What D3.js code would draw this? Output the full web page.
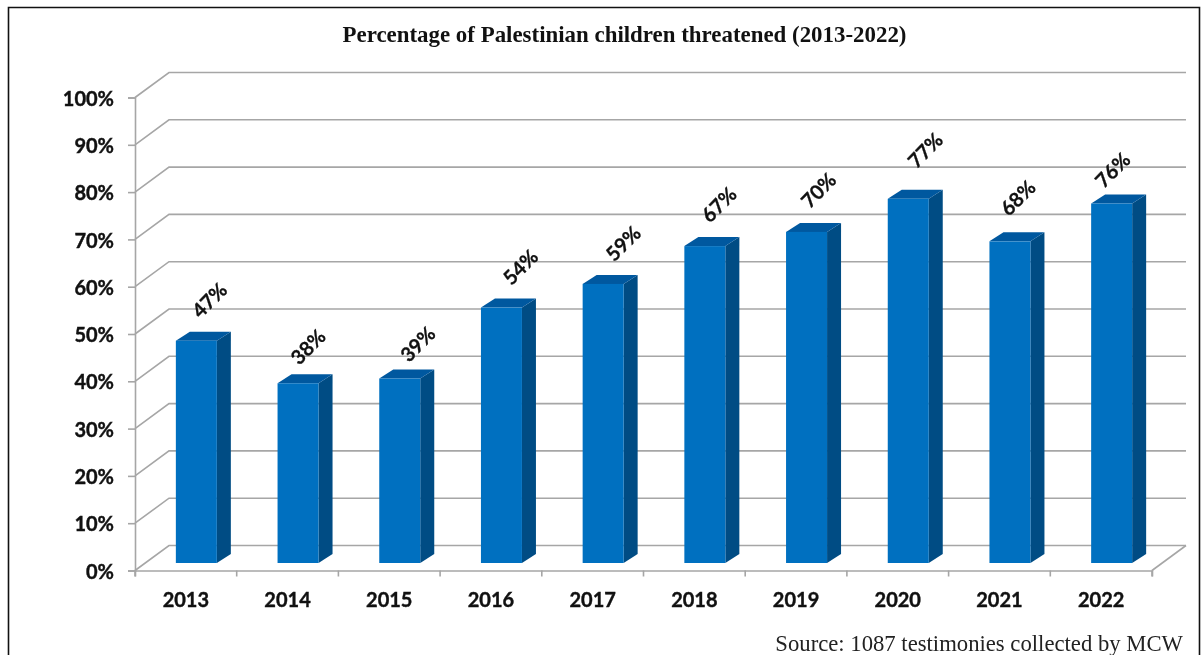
<!DOCTYPE html>
<html><head><meta charset="utf-8">
<script src="https://cdn.jsdelivr.net/npm/d3@7/dist/d3.min.js"></script>
<style>html,body{margin:0;padding:0;background:#fff;overflow:hidden}svg{display:block;filter:blur(0.45px)}</style>
</head><body><svg id="c" width="1201" height="655"></svg>
<script>
const years = ["2013","2014","2015","2016","2017","2018","2019","2020","2021","2022"];
const percents = [47,38,39,54,59,67,70,77,68,76];
const yTicks = [0,10,20,30,40,50,60,70,80,90,100];
const titleText = "Percentage of Palestinian children threatened (2013-2022)";
const sourceText = "Source: 1087 testimonies collected by MCW";

// hand-placed label nudges seen in the reference, relative to the default label spot
const labelNudgeX = [-1,-4,4,5,6,0,-2,3,-6,-13];
const labelNudgeY = [4,8,10,4,4,3,3,-4,1,11];

const svg = d3.select("#c");
const sans = "Lato, 'Open Sans', sans-serif";
const grid = "#a6a6a6";
const wallDx = 34, wallDy = -25;
const x = d3.scaleBand().domain(years).range([135,1152]);
const y = d3.scaleLinear().domain([0,100]).range([570.5,97.5]);
const barW = 41, barDx = 14, barDy = -9, barLift = -7.5, barShift = 10.5;

// frame
svg.append("path").attr("d","M8.5,655V7.5H1199.5V655").attr("fill","none").attr("stroke","#111").attr("stroke-width",1.6);

// gridlines on side and back walls
const g = svg.append("g").attr("fill","none").attr("stroke",grid).attr("stroke-width",1.6);
yTicks.forEach(t=>{
  const p = d3.path();
  p.moveTo(135,y(t)); p.lineTo(135+wallDx,y(t)+wallDy); p.lineTo(1152+wallDx,y(t)+wallDy);
  g.append("path").attr("d",p.toString());
});
// floor
{
  const p = d3.path();
  p.moveTo(1186,y(0)+wallDy); p.lineTo(1152,y(0));
  g.append("path").attr("d",p.toString());
}
// axes
const yAxis = d3.axisLeft(y).tickValues(yTicks).tickSize(7).tickFormat(d=>d+"%");
const ya = svg.append("g").attr("transform","translate(135,0)").call(yAxis);
const xAxis = d3.axisBottom(x).tickSize(6);
const xa = svg.append("g").attr("transform",`translate(0,${y(0)})`).call(xAxis);
xa.selectAll(".tick line").remove();
const xEdges = years.map(d=>x(d)).concat([1152]);
xEdges.forEach(e=>xa.append("line").attr("x1",e).attr("x2",e).attr("y1",0).attr("y2",6).attr("stroke",grid).attr("stroke-width",1.6));
[ya,xa].forEach(a=>{
  a.selectAll(".domain").attr("stroke",grid).attr("stroke-width",1.6);
  a.selectAll(".tick line").attr("stroke",grid).attr("stroke-width",1.6);
  a.selectAll("text").attr("fill","#111").attr("font-family",sans).attr("font-weight",700).attr("font-size",20)
    .attr("stroke","#111").attr("stroke-width",0.4);
});
ya.selectAll("text").attr("x",-21).attr("dy","0.38em");
xa.selectAll("text").attr("y",22);

// bars
const bars = svg.append("g").selectAll("g").data(years.map((d,i)=>({year:d,v:percents[i],i}))).join("g");
const bx = d=>x(d.year)+x.bandwidth()/2-barW/2+barShift;
const base = y(0)+barLift;
const top_ = d=>y(d.v)+barLift;
bars.append("path").attr("fill","#004c84").attr("d",d=>{
  const l=bx(d)+barW;
  return `M${l},${top_(d)}L${l+barDx},${top_(d)+barDy}V${base+barDy}L${l},${base}Z`;
});
bars.append("path").attr("fill","#00589f").attr("d",d=>{
  const l=bx(d);
  return `M${l},${top_(d)}L${l+barDx},${top_(d)+barDy}H${l+barW+barDx}L${l+barW},${top_(d)}Z`;
});
bars.append("rect").attr("fill","#0070c0").attr("x",bx).attr("y",top_).attr("width",barW).attr("height",d=>base-top_(d));
// value labels
bars.append("text").text(d=>d.v+"%")
  .attr("transform",d=>`translate(${bx(d)+barW/2+15.5+labelNudgeX[d.i]},${top_(d)-43+labelNudgeY[d.i]}) rotate(-45)`)
  .attr("text-anchor","middle").attr("dominant-baseline","middle")
  .attr("font-family",sans).attr("font-weight",700).attr("font-size",20).attr("fill","#111")
  .attr("stroke","#111").attr("stroke-width",0.3);

svg.append("text").text(titleText).attr("x",624.5).attr("y",42).attr("text-anchor","middle")
  .attr("font-family","'Liberation Serif',serif").attr("font-weight",700).attr("font-size",22.9).attr("fill","#111");
svg.append("text").text(sourceText).attr("x",1183).attr("y",651).attr("text-anchor","end")
  .attr("font-family","'Liberation Serif',serif").attr("font-size",22.7).attr("fill","#222");
</script></body></html>
